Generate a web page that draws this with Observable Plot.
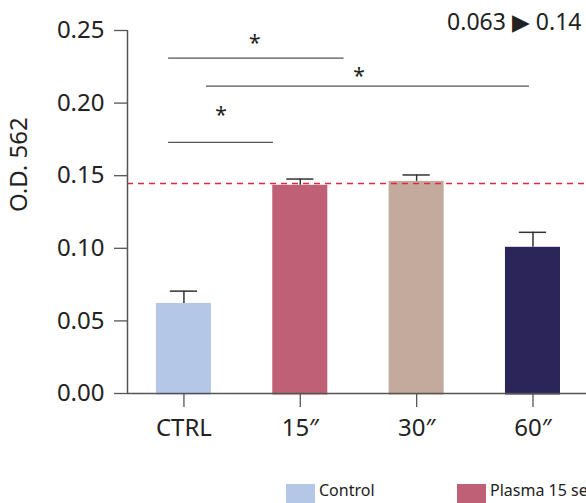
<!DOCTYPE html>
<html>
<head>
<meta charset="utf-8">
<script src="https://cdn.jsdelivr.net/npm/d3@7"></script>
<script src="https://cdn.jsdelivr.net/npm/@observablehq/plot@0.6"></script>
<style>
  html, body { margin: 0; padding: 0; background: #fff; overflow: hidden; width: 586px; height: 503px; }
  #chart svg { display: block; }
  .legend { position: relative; height: 33px; font-family: "Noto Sans", sans-serif; font-size: 16px; color: #222; white-space: nowrap; }
  .legend .item { position: absolute; top: 14px; display: flex; align-items: flex-start; }
  .legend .sw { width: 29px; height: 19px; margin-right: 4px; }
  .legend span { line-height: 16px; margin-top: -2px; }
</style>
</head>
<body>
<div id="chart"></div>
<script>
// ---- data ----
const categories = ["CTRL", "15″", "30″", "60″"];
const values = [0.062, 0.1434, 0.1461, 0.1007];
const errors = [0.0085, 0.0043, 0.0044, 0.0103];
const colors = ["#b4c7e7", "#bf6077", "#c4aa9c", "#2b2559"];
const legendLabels = ["Control", "Plasma 15 sec"];
const yTicks = [0, 0.05, 0.10, 0.15, 0.20, 0.25];
const refLine = [0.1447];
const annotation = ["0.063 ▶ 0.14"];
// significance brackets: start/end in category index units, height in O.D.
const bracketStart = [-0.132, 0.194, -0.132];
const bracketEnd = [1.376, 2.970, 0.770];
const bracketY = [0.231, 0.2117, 0.173];
const starX = [0.609, 1.504, 0.319];
const starY = [0.2445, 0.2218, 0.195];

// ---- tables ----
const bars = categories.map((c, i) => ({i, cat: c, value: values[i], err: errors[i], color: colors[i]}));
const brackets = bracketStart.map((s, k) => ({x1: s, x2: bracketEnd[k], y: bracketY[k]}));
const stars = starX.map((x, k) => ({x, y: starY[k]}));

const xDomain = [-0.485, 3.46];
const yDomain = [0, 0.25];
const half = 0.2365;   // bar half-width (category units)
const capHalf = 0.117; // error cap half-width

const font = "Noto Sans, sans-serif";

const plot = Plot.plot({
  width: 586,
  height: 470,
  marginLeft: 127,
  marginRight: 0,
  marginTop: 30,
  marginBottom: 77,
  style: {fontFamily: font, fontSize: "24px", color: "#222", background: "#fff", overflow: "visible"},
  x: {type: "linear", domain: xDomain, axis: null},
  y: {domain: yDomain, axis: null},
  marks: [
    Plot.rectY(bars, {x1: d => d.i - half, x2: d => d.i + half, y1: 0, y2: "value", fill: "color", insetBottom: -1.5}),
    Plot.ruleY(refLine, {stroke: "#dd2a3c", strokeWidth: 1.5, strokeDasharray: "6,5"}),
    Plot.ruleX(bars, {x: "i", y1: "value", y2: d => d.value + d.err, stroke: "#333", strokeWidth: 1.5}),
    Plot.ruleY(bars, {x1: d => d.i - capHalf, x2: d => d.i + capHalf, y: d => d.value + d.err, stroke: "#333", strokeWidth: 1.5}),
    Plot.axisY({ticks: yTicks, tickFormat: d3.format(".2f"), tickSize: 13, tickPadding: 10, stroke: "#555", strokeWidth: 1.3, label: null, fontSize: 24}),
    Plot.axisX({ticks: d3.range(categories.length), tickFormat: i => categories[i], tickSize: 14, tickPadding: 11, stroke: "#555", strokeWidth: 1.3, label: null, fontSize: 24}),
    Plot.ruleX([xDomain[0]], {y1: yDomain[0], y2: yDomain[1], stroke: "#555", strokeWidth: 1.5}),
    Plot.ruleY([yDomain[0]], {stroke: "#555", strokeWidth: 1.5}),
    Plot.ruleY(brackets, {x1: "x1", x2: "x2", y: "y", stroke: "#555", strokeWidth: 1.3}),
    Plot.text(stars, {x: "x", y: "y", text: () => "*", fontSize: 21, dy: 5, fill: "#222"}),
    Plot.text(["O.D. 562"], {frameAnchor: "left", rotate: -90, dx: -108, fontSize: 24, fill: "#222"}),
    Plot.text(annotation, {frameAnchor: "top-right", textAnchor: "end", lineAnchor: "bottom", dx: -5, dy: -1, fontSize: 23, fill: "#222"})
  ]
});
document.getElementById("chart").appendChild(plot);

// legend
const legend = document.createElement("div");
legend.className = "legend";
legendLabels.forEach((lab, i) => {
  const item = document.createElement("div");
  item.className = "item";
  item.style.left = (286 + 171 * i) + "px";
  const sw = document.createElement("div");
  sw.className = "sw";
  sw.style.background = colors[i];
  const t = document.createElement("span");
  t.textContent = lab;
  item.appendChild(sw);
  item.appendChild(t);
  legend.appendChild(item);
});
document.body.appendChild(legend);
</script>
</body>
</html>
